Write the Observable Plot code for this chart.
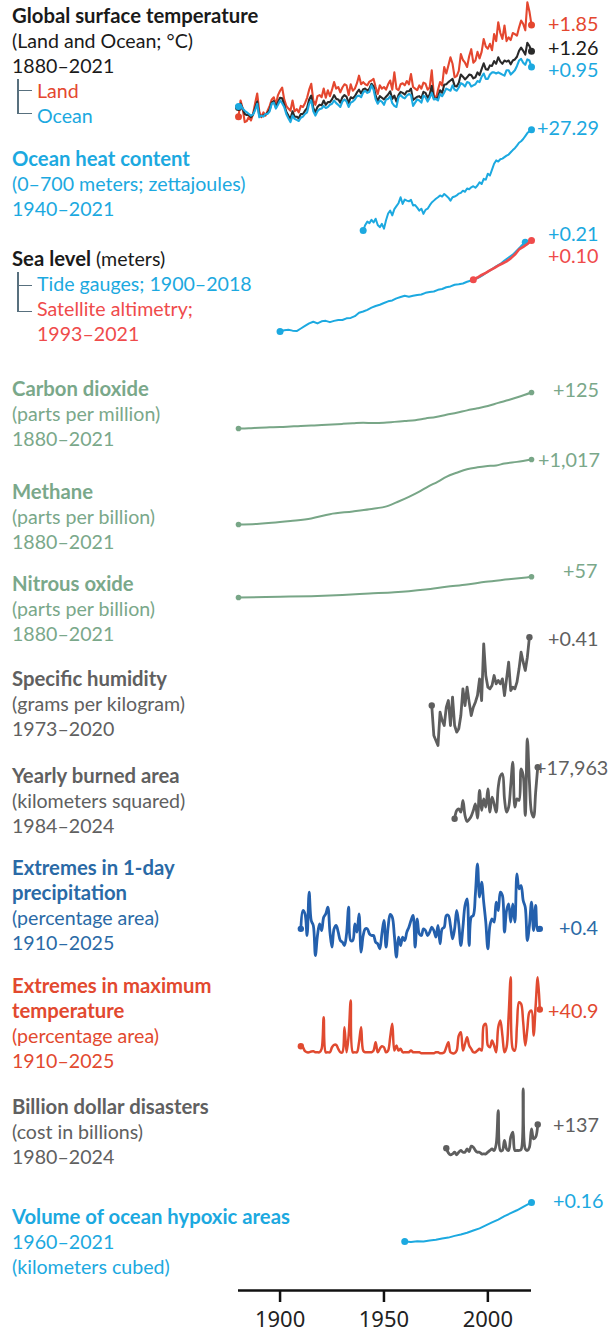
<!DOCTYPE html>
<html><head><meta charset="utf-8">
<script src="https://cdn.jsdelivr.net/npm/d3@7"></script>
<script src="https://cdn.jsdelivr.net/npm/@observablehq/plot@0.6"></script>
<style>
html,body{margin:0;padding:0;background:#fff;overflow:hidden;}
#root{position:relative;width:609px;height:1335px;overflow:hidden;font-family:Lato,"Noto Sans",sans-serif;}
.panel{position:absolute;left:0;}
.grp{position:absolute;left:12px;font-size:19.6px;line-height:25px;white-space:nowrap;}
.grp div{height:25px;}
.b{font-weight:700;font-size:20.3px;}
.ind{padding-left:25px;}
.val{position:absolute;font-size:19.8px;line-height:24px;white-space:nowrap;}
.br{position:absolute;background:#58707e;}
</style></head><body><div id="root"></div>
<script>
// ---------------- DATA ----------------
const tempYears = d3.range(1880, 2022);
const landTemp = [-0.30,0.00,-0.15,-0.40,-0.38,-0.30,-0.37,-0.25,-0.05,0.13,-0.20,-0.31,-0.22,-0.28,-0.19,-0.10,0.02,0.06,-0.08,0.10,
0.18,0.24,0.02,-0.10,-0.15,-0.19,0.00,-0.20,-0.16,-0.22,-0.10,-0.12,-0.05,0.05,0.20,0.31,0.00,-0.08,0.08,0.10,
0.06,0.22,0.05,0.19,0.08,0.20,0.34,0.22,0.25,0.15,0.24,0.30,0.28,0.10,0.30,0.18,0.22,0.32,0.46,0.30,
0.34,0.30,0.28,0.35,0.37,0.40,0.25,0.12,0.28,0.22,0.25,0.20,0.30,0.37,0.20,0.52,0.22,0.19,0.30,0.32,
0.28,0.36,0.30,0.49,0.25,0.22,0.19,0.28,0.22,0.33,0.31,0.20,0.24,0.56,0.10,0.03,0.20,0.34,0.28,0.62,
0.50,0.65,0.80,0.68,0.43,0.45,0.55,0.86,0.75,0.70,0.62,0.82,0.95,0.70,0.74,0.90,0.78,0.90,1.14,1.00,
0.96,1.05,0.93,1.23,1.10,1.45,1.25,1.14,1.39,1.10,1.17,1.12,1.25,1.23,1.20,1.35,1.48,1.42,1.30,1.82,1.65,1.40];
const oceanTemp = [-0.11,-0.08,-0.15,-0.19,-0.22,-0.25,-0.28,-0.26,-0.18,-0.06,-0.31,-0.28,-0.30,-0.25,-0.25,-0.20,-0.06,-0.04,-0.15,-0.08,
0.00,-0.05,-0.12,-0.25,-0.33,-0.40,-0.28,-0.34,-0.36,-0.38,-0.32,-0.30,-0.25,-0.22,-0.06,0.00,-0.20,-0.28,-0.20,-0.16,
-0.15,-0.10,-0.14,-0.12,-0.08,-0.06,0.00,-0.05,-0.08,-0.12,-0.02,0.02,-0.02,-0.12,-0.04,-0.02,0.02,0.08,0.09,0.06,
0.15,0.18,0.14,0.16,0.28,0.20,0.02,-0.06,0.00,-0.02,-0.08,0.02,0.03,0.08,-0.05,-0.10,-0.12,0.06,0.10,0.06,
0.04,0.09,0.12,0.10,-0.10,-0.04,0.02,0.00,-0.04,0.09,0.06,-0.02,0.05,0.14,0.02,0.03,0.00,0.12,0.08,0.15,
0.22,0.20,0.18,0.28,0.20,0.18,0.24,0.32,0.30,0.26,0.34,0.33,0.26,0.28,0.30,0.36,0.34,0.44,0.50,0.40,
0.40,0.48,0.52,0.52,0.50,0.52,0.50,0.48,0.46,0.56,0.56,0.48,0.52,0.56,0.64,0.74,0.77,0.70,0.66,0.76,0.74,0.62];
const globalTemp = [-0.13,-0.06,-0.15,-0.25,-0.27,-0.27,-0.31,-0.26,-0.14,-0.02,-0.28,-0.29,-0.28,-0.26,-0.23,-0.17,-0.04,-0.01,-0.13,-0.03,
0.05,0.04,-0.08,-0.21,-0.28,-0.34,-0.20,-0.30,-0.30,-0.33,-0.25,-0.25,-0.19,-0.14,0.02,0.09,-0.14,-0.22,-0.12,-0.08,
-0.09,0.00,-0.08,-0.03,-0.03,0.02,0.10,0.03,0.02,-0.04,0.06,0.10,0.07,-0.05,0.06,0.04,0.08,0.15,0.20,0.13,
0.21,0.22,0.18,0.22,0.31,0.26,0.09,-0.01,0.08,0.05,0.02,0.07,0.11,0.17,0.03,0.09,-0.02,0.10,0.16,0.14,
0.11,0.17,0.17,0.22,0.01,0.04,0.07,0.08,0.04,0.16,0.14,0.05,0.11,0.27,0.04,0.03,0.06,0.19,0.14,0.29,
0.30,0.34,0.37,0.40,0.27,0.26,0.33,0.48,0.44,0.39,0.43,0.48,0.47,0.41,0.43,0.52,0.47,0.58,0.69,0.58,
0.57,0.65,0.64,0.73,0.68,0.80,0.72,0.68,0.74,0.72,0.74,0.67,0.74,0.76,0.81,0.92,0.98,0.92,0.85,1.07,1.01,0.91];

const ohcYears = d3.range(1940, 2022);
const ohcValues = [0.0,1.5,2.4,2.0,2.9,2.2,3.2,1.5,0.9,1.8,0.5,2.8,4.6,5.4,4.1,5.8,6.6,7.4,9.0,7.2,
8.4,8.1,7.9,8.3,6.8,6.9,6.2,5.4,5.9,4.5,5.6,5.9,6.8,7.6,8.1,8.6,9.0,9.5,9.2,9.9,
9.4,8.9,8.1,9.0,9.2,9.5,10.0,10.2,10.8,10.5,11.4,11.2,11.7,12.0,11.6,12.2,13.1,12.6,14.0,13.8,
15.4,14.9,16.5,18.1,19.0,18.7,19.3,19.5,19.9,20.3,20.6,21.2,21.8,22.3,23.0,23.8,24.2,24.8,25.6,26.4,26.9,27.29];

const tideYears = d3.range(1900, 2019, 2);
const tideValues = [0.000,0.003,0.004,0.002,0.001,0.007,0.013,0.019,0.023,0.019,0.024,0.025,0.022,0.025,0.027,0.027,0.031,0.032,0.036,0.044,
0.047,0.051,0.056,0.060,0.063,0.067,0.071,0.073,0.078,0.081,0.084,0.082,0.084,0.086,0.087,0.091,0.093,0.094,0.098,0.100,
0.104,0.106,0.110,0.111,0.113,0.117,0.120,0.123,0.128,0.134,0.141,0.147,0.153,0.159,0.167,0.174,0.181,0.191,0.201,0.210];
const satYears = d3.range(1993, 2022, 2);
const satValues = [0.122,0.127,0.133,0.138,0.144,0.149,0.155,0.160,0.165,0.172,0.181,0.193,0.199,0.206,0.214];

const co2Years = [1880,1885,1890,1895,1900,1905,1910,1915,1920,1925,1930,1935,1940,1945,1950,1955,1960,1965,1970,1975,1980,1985,1990,1995,2000,2005,2010,2015,2021];
const co2Values = [291,292,294,295,296,298,300,301,303,305,307,309,311,310,311,314,317,320,326,331,339,346,354,361,369,380,390,401,416];

const ch4Years = [1880,1890,1896,1905,1915,1924,1935,1943,1952,1957,1962,1967,1971,1976,1980,1985,1990,1995,1999,2004,2008,2014,2021];
const ch4Values = [880,892,906,935,974,1042,1085,1120,1172,1240,1313,1395,1469,1552,1626,1690,1746,1775,1793,1805,1835,1860,1897];

const n2oYears = [1880,1900,1915,1930,1943,1955,1962,1970,1980,1990,1999,2010,2021];
const n2oValues = [277,279,280.7,284,288,291.5,294.5,299,306.4,313,320.2,327,334];

const humYears = d3.range(1973, 2021);
const humValues = [0.00,-0.18,-0.21,-0.24,-0.04,-0.09,-0.12,-0.01,0.03,-0.12,0.05,-0.12,-0.16,-0.14,-0.06,0.10,0.00,0.11,0.02,-0.06,
-0.01,0.02,0.06,0.16,0.03,0.37,0.18,0.11,0.10,0.12,0.18,0.13,0.15,0.13,0.16,0.06,0.16,0.26,0.09,0.11,
0.10,0.14,0.22,0.32,0.26,0.21,0.29,0.41];

const burnYears = d3.range(1984, 2025);
const burnValues = [12000,14900,15480,14320,18375,13160,11070,11770,12930,14900,17220,12230,21850,14900,18950,16060,22430,14320,19530,17220,
14320,23010,26840,27650,18950,14320,16060,23590,31700,16060,18950,18380,29390,27070,13160,39820,24750,14320,12580,21270,29963];

const precipYears = d3.range(1910, 2026);
const precipValues = [10.0,13.3,12.7,8.8,16.6,11.5,10.6,5.2,8.8,10.9,9.7,12.1,12.7,13.9,9.4,6.7,10.0,10.6,9.4,7.9,
7.6,7.0,9.1,13.9,7.9,7.9,10.9,9.4,12.7,5.8,8.8,10.0,10.0,9.1,8.8,8.8,7.6,7.3,6.4,9.1,
11.5,6.7,10.3,12.6,12.1,8.8,4.9,8.5,7.0,8.5,7.9,9.4,10.3,11.5,12.4,6.7,11.8,9.1,8.8,10.0,
9.7,8.8,9.4,10.3,9.7,8.5,10.6,7.3,10.0,10.3,12.4,12.4,10.6,8.2,10.0,13.3,10.9,7.0,10.3,14.2,
15.4,7.0,12.1,12.4,16.3,21.7,15.7,18.4,14.8,11.2,6.4,10.6,11.8,11.2,14.8,13.3,16.6,16.0,9.4,13.3,
14.5,11.2,14.5,11.2,19.9,17.2,17.8,15.1,13.9,7.9,10.6,14.8,9.7,14.2,9.7,10.0];

const tmaxYears = d3.range(1910, 2026);
const tmaxValues = [6.6,5.6,1.9,0.9,0.9,1.6,1.9,0.9,0.9,0.9,4.1,33.7,0.9,0.9,0.9,5.6,7.8,7.8,4.1,0.9,
0.9,24.3,0.9,16.5,49.3,0.9,0.9,0.9,10.3,24.3,2.5,0.9,0.9,0.9,0.9,2.5,10.3,0.9,4.1,6.6,
5.6,0.9,2.5,15.0,27.5,2.5,7.2,2.5,4.1,0.9,0.9,0.9,0.9,2.5,0.9,0.9,0.9,0.9,0,0,
0,0,0,0,0,0.9,0.9,0,0,0.9,5.6,10.3,0.9,0,0,2.5,16.5,19.7,2.5,8.7,
15.0,7.2,4.1,0.9,0.9,2.5,4.1,2.5,25.9,27.5,7.2,5.6,11.9,7.2,0.9,24.3,30.6,16.5,0.9,5.6,
35.3,71.1,4.1,2.5,25.9,47.7,46.2,29.0,7.2,22.8,38.4,39.9,16.5,44.6,71.1,40.9];

const disYears = d3.range(1980, 2025);
const disValues = [52,25,14,19,29,14,29,39,29,29,48,33,64,58,39,29,29,19,19,19,
29,39,48,39,75,270,39,39,97,48,39,116,145,39,39,39,45,396,48,39,
58,164,106,116,189];

const hypYears = [1960,1963,1966,1969,1972,1975,1978,1981,1984,1987,1990,1993,1996,1999,2002,2005,2008,2011,2014,2017,2021];
const hypValues = [0.050,0.048,0.051,0.050,0.054,0.057,0.062,0.066,0.073,0.079,0.086,0.095,0.104,0.116,0.128,0.140,0.154,0.166,0.178,0.192,0.210];

const axisTicks = [1900, 1950, 2000];

// ---------------- COLORS ----------------
const RED = "#e4472f", CYAN = "#1ca9e0", BLACK = "#2a2a2a", GREEN = "#78a687",
      GRAY = "#5e5e5e", BLUE = "#2460ad", TRED = "#e04a30", SRED = "#ef4b4b";

const root = document.getElementById("root");

function panel(top, height, domain, series) {
  const marks = [];
  for (const s of series) {
    const data = s.years.map((x, i) => ({x, y: s.values[i]}));
    marks.push(Plot.line(data, {x: "x", y: "y", stroke: s.color, strokeWidth: s.w || 2, curve: s.curve || "linear", strokeLinejoin: "round"}));
    const ends = [data[0], data[data.length - 1]];
    marks.push(Plot.dot(ends, {x: "x", y: "y", fill: s.color, r: s.r || 3}));
  }
  const p = Plot.plot({
    width: 609, height, marginLeft: 238, marginRight: 78, marginTop: 0, marginBottom: 0,
    x: {domain: [1880, 2021], axis: null},
    y: {domain, axis: null},
    style: {background: "transparent", overflow: "visible"},
    marks
  });
  p.classList.add("panel");
  p.style.top = top + "px";
  root.appendChild(p);
}

// temperature
panel(0, 130, [-0.556, 1.852], [
  {years: tempYears, values: landTemp, color: RED, w: 2.1, r: 3.5},
  {years: tempYears, values: globalTemp, color: BLACK, w: 2.1, r: 3.5},
  {years: tempYears, values: oceanTemp, color: CYAN, w: 2.1, r: 3.5}
]);
// ocean heat content
panel(120, 120, [-2.71, 29.82], [{years: ohcYears, values: ohcValues, color: CYAN, w: 2, r: 3.5}]);
// sea level
panel(220, 120, [-0.0212, 0.2612], [
  {years: tideYears, values: tideValues, color: CYAN, w: 2, r: 3.5},
  {years: satYears, values: satValues, color: SRED, w: 2.6, r: 3.5}
]);
panel(380, 60, [249.3, 457.7], [{years: co2Years, values: co2Values, color: GREEN, w: 2, r: 2.8, curve: "monotone-x"}]);
panel(450, 80, [786, 2038], [{years: ch4Years, values: ch4Values, color: GREEN, w: 2, r: 2.8, curve: "monotone-x"}]);
panel(560, 45, [254.9, 379.0], [{years: n2oYears, values: n2oValues, color: GREEN, w: 2, r: 2.8, curve: "monotone-x"}]);
panel(625, 130, [-0.30, 0.48], [{years: humYears, values: humValues, color: GRAY, w: 2.8, r: 3.2}]);
panel(730, 95, [9670, 42703], [{years: burnYears, values: burnValues, color: GRAY, w: 2.8, r: 3.2, curve: "catmull-rom"}]);
panel(855, 115, [2.5, 23.2], [{years: precipYears, values: precipValues, color: BLUE, w: 2.8, r: 3.2, curve: "catmull-rom"}]);
panel(970, 90, [-6.8, 77.4], [{years: tmaxYears, values: tmaxValues, color: TRED, w: 2.5, r: 3.2, curve: "catmull-rom"}]);
panel(1080, 85, [-48, 444], [{years: disYears, values: disValues, color: GRAY, w: 2.8, r: 3.2, curve: "catmull-rom"}]);
panel(1180, 70, [0.0131, 0.30], [{years: hypYears, values: hypValues, color: CYAN, w: 2, r: 3.5}]);

// x axis
const ax = Plot.plot({
  width: 609, height: 54, marginLeft: 238, marginRight: 78, marginTop: 0, marginBottom: 44,
  x: {domain: [1880, 2021]},
  y: {domain: [0, 1], axis: null},
  style: {background: "transparent", overflow: "visible"},
  marks: [
    Plot.ruleY([0], {stroke: "#111", strokeWidth: 2.5}),
    Plot.axisX({ticks: axisTicks, tickFormat: d => String(d), tickSize: 12, tickPadding: 9, fontSize: 22, strokeWidth: 2.5, stroke: "#111", fill: "#222"})
  ]
});
ax.classList.add("panel");
ax.style.top = "1280px";
root.appendChild(ax);

// ---------------- LEFT LABELS ----------------
const groups = [
  {c: 15, color: "#1a1a1a", lines: [["b","Global surface temperature"],["","(Land and Ocean; °C)"],["","1880–2021"],["ind","Land",RED],["ind","Ocean",CYAN]]},
  {c: 158, color: CYAN, lines: [["b","Ocean heat content"],["","(0–700 meters; zettajoules)"],["","1940–2021"]]},
  {c: 258, color: "#1a1a1a", lines: [["sea",""],["ind","Tide gauges; 1900–2018",CYAN],["ind","Satellite altimetry;",SRED],["ind","1993–2021",SRED]]},
  {c: 388, color: "#7aa88a", lines: [["b","Carbon dioxide"],["","(parts per million)"],["","1880–2021"]]},
  {c: 491, color: "#7aa88a", lines: [["b","Methane"],["","(parts per billion)"],["","1880–2021"]]},
  {c: 583, color: "#7aa88a", lines: [["b","Nitrous oxide"],["","(parts per billion)"],["","1880–2021"]]},
  {c: 678, color: "#606060", lines: [["b","Specific humidity"],["","(grams per kilogram)"],["","1973–2020"]]},
  {c: 775, color: "#606060", lines: [["b","Yearly burned area"],["","(kilometers squared)"],["","1984–2024"]]},
  {c: 867, color: "#2a6aa6", lines: [["b","Extremes in 1-day"],["b","precipitation"],["","(percentage area)"],["","1910–2025"]]},
  {c: 985, color: "#e2492f", lines: [["b","Extremes in maximum"],["b","temperature"],["","(percentage area)"],["","1910–2025"]]},
  {c: 1106, color: "#606060", lines: [["b","Billion dollar disasters"],["","(cost in billions)"],["","1980–2024"]]},
  {c: 1216, color: CYAN, lines: [["b","Volume of ocean hypoxic areas"],["","1960–2021"],["","(kilometers cubed)"]]}
];
for (const g of groups) {
  const el = document.createElement("div");
  el.className = "grp";
  el.style.top = (g.c - 12.5) + "px";
  el.style.color = g.color;
  for (const [cls, txt, col] of g.lines) {
    const d = document.createElement("div");
    if (cls === "sea") {
      d.innerHTML = '<span class="b">Sea level</span> (meters)';
    } else {
      d.textContent = txt;
      if (cls) d.className = cls;
    }
    if (col) d.style.color = col;
    el.appendChild(d);
  }
  root.appendChild(el);
}
// brackets
function bar(x, y, w, h) {
  const d = document.createElement("div");
  d.className = "br";
  Object.assign(d.style, {left: x + "px", top: y + "px", width: w + "px", height: h + "px"});
  root.appendChild(d);
}
bar(17, 79, 1.6, 35); bar(17, 89.5, 15, 1.6); bar(17, 112.5, 15, 1.6);
bar(17, 272, 1.6, 40); bar(17, 284.5, 15, 1.6); bar(17, 310.5, 15, 1.6);

// ---------------- END VALUE LABELS ----------------
const endLabels = [
  ["+1.85", 548, 23, RED], ["+1.26", 548, 47, "#1a1a1a"], ["+0.95", 548, 69, CYAN],
  ["+27.29", 537, 127, CYAN], ["+0.21", 548, 233, CYAN], ["+0.10", 548, 255, SRED],
  ["+125", 553, 389, "#7aa88a"], ["+1,017", 538, 459, "#7aa88a"], ["+57", 563, 570, "#7aa88a"],
  ["+0.41", 548, 638, "#606060"], ["+17,963", 535, 767, "#606060"], ["+0.4", 559, 927, "#2a6aa6"],
  ["+40.9", 548, 1010, "#e2492f"], ["+137", 553, 1124, "#606060"], ["+0.16", 553, 1200, CYAN]
];
for (const [t, x, y, c] of endLabels) {
  const d = document.createElement("div");
  d.className = "val";
  d.textContent = t;
  Object.assign(d.style, {left: x + "px", top: (y - 12) + "px", color: c});
  root.appendChild(d);
}
</script></body></html>
